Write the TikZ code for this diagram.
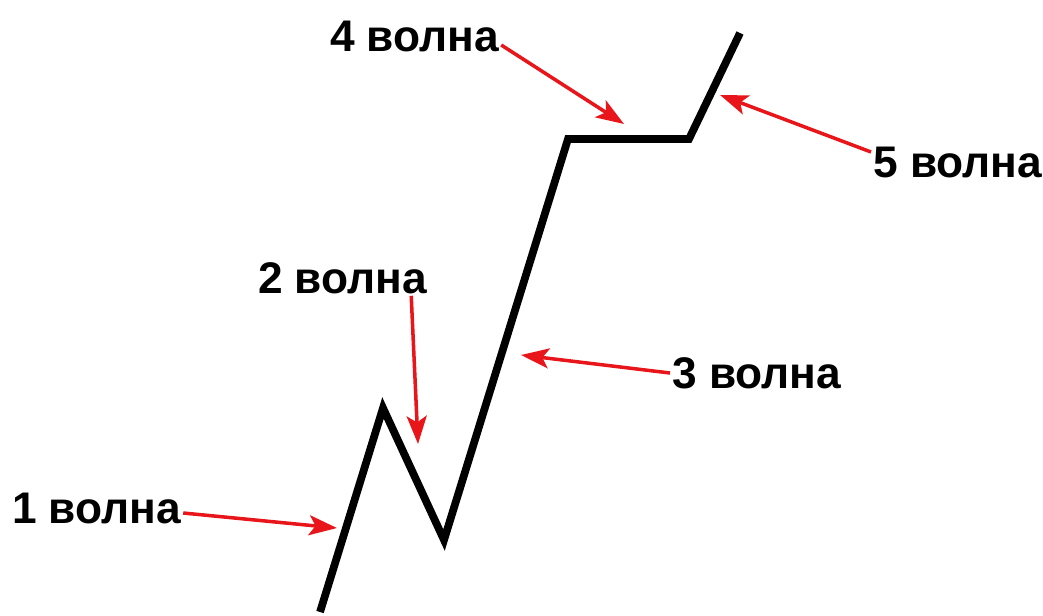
\documentclass[tikz,border=0pt]{standalone}
\usepackage{fontspec}
\setmainfont{Liberation Sans}
\usetikzlibrary{arrows.meta}
\definecolor{ptrred}{RGB}{232,22,26}

\begin{document}
\begin{tikzpicture}[x=0.02cm, y=-0.02cm,
	lbl/.style={font=\fontsize{25.2}{29}\selectfont\bfseries, inner sep=1pt},
	wave/.style={line width=4.4pt, line join=miter, line cap=butt},
	ptr/.style={ptrred, line width=2pt, -{Stealth[length=5.6mm, width=4mm, inset=1.3mm]}}]
	\useasboundingbox (0,0) rectangle (1043,615);
	% the five waves
	\coordinate (p0) at (320,612);
	\coordinate (p1) at (383,408);
	\coordinate (p2) at (444,540);
	\coordinate (p3) at (568,139);
	\coordinate (p4) at (689,139);
	\coordinate (p5) at (740,33);
	\draw[wave] (p0) -- (p1) -- (p2) -- (p3) -- (p4) -- (p5);
	% labels
	\node[lbl, anchor=west] (w1) at (10,508) {1 волна};
	\node[lbl, anchor=west] (w2) at (256,278) {2 волна};
	\node[lbl, anchor=west] (w3) at (670,373) {3 волна};
	\node[lbl, anchor=west] (w4) at (328,36) {4 волна};
	\node[lbl, anchor=west] (w5) at (871,162) {5 волна};
	% arrow tips
	\coordinate (t1) at (337,528);
	\coordinate (t2) at (418,444);
	\coordinate (t3) at (521,355);
	\coordinate (t4) at (624,124);
	\coordinate (t5) at (720,95);
	\draw[ptr] ([yshift=-0.1cm]w1.east) -- (t1);
	\draw[ptr] ([xshift=-0.36cm]w2.south east) -- (t2);
	\draw[ptr] (w3.west) -- (t3);
	\draw[ptr] ([yshift=-0.18cm]w4.east) -- (t4);
	\draw[ptr] ([yshift=0.2cm]w5.west) -- (t5);
\end{tikzpicture}
\end{document}
